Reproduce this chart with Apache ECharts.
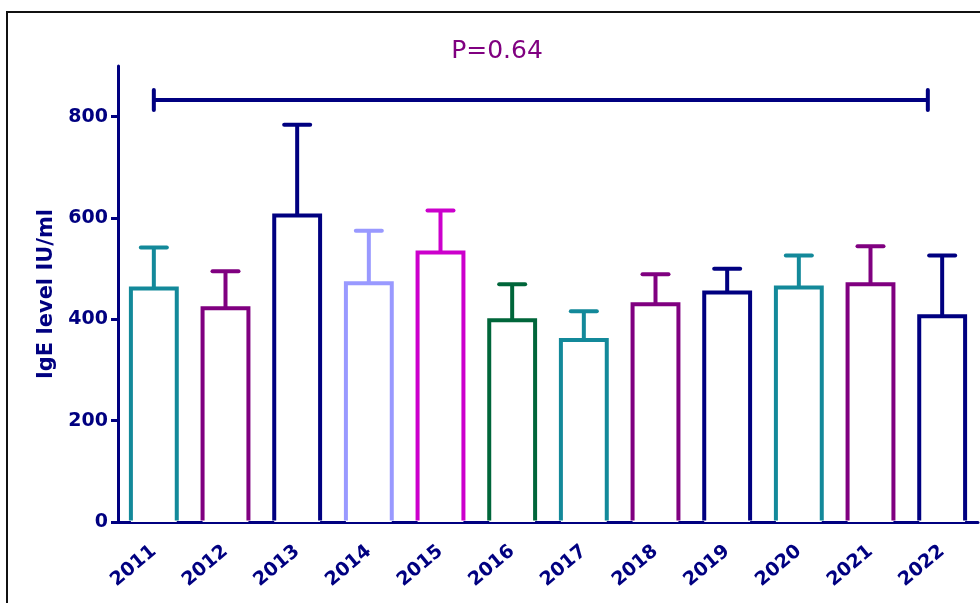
<!DOCTYPE html>
<html><head><meta charset="utf-8">
<script src="https://cdn.jsdelivr.net/npm/echarts@6/dist/echarts.min.js"></script>
<style>html,body{margin:0;padding:0;background:#fff}#c{width:980px;height:603px}</style>
</head><body><div id="c"></div>
<script>
const years = ['2011','2012','2013','2014','2015','2016','2017','2018','2019','2020','2021','2022'];
const means = [461, 422, 605, 471, 532, 398, 359, 430, 453, 463, 469, 406];
const errorTops = [542, 495, 784, 575, 615, 469, 416, 489, 500, 526, 544, 526];
const barColors = ['#13899a','#800080','#000080','#9999ff','#cc00cc','#00663a','#13899a','#800080','#000080','#13899a','#800080','#000080'];
const yTicks = [0, 200, 400, 600, 800];
const bracketFrom = 0, bracketTo = 10.8, bracketValue = 833;
const pLabel = 'P=0.64';

const NAVY = '#000080';
const FONT = 'DejaVu Sans';
const chart = echarts.init(document.getElementById('c'), null, {renderer: 'canvas'});

const barData = years.map((y, i) => [i, means[i], errorTops[i]]);

chart.setOption({
  animation: false,
  backgroundColor: '#fff',
  grid: {left: 118, right: 2, top: 66, bottom: 81, containLabel: false},
  graphic: [
    {type: 'rect', shape: {x: 7, y: 12, width: 1000, height: 700}, style: {fill: null, stroke: '#111', lineWidth: 2}, z: 0},
    {type: 'text', x: 497, y: 51, style: {text: pLabel, fill: '#800080', fontSize: 25, fontFamily: FONT, align: 'center', verticalAlign: 'middle'}}
  ],
  xAxis: [{
    type: 'category', data: years,
    axisLine: {onZero: false, lineStyle: {color: NAVY, width: 3}},
    axisTick: {alignWithLabel: true, length: 8, lineStyle: {color: NAVY, width: 3}},
    axisLabel: {rotate: 40, margin: 27, color: NAVY, fontFamily: FONT, fontWeight: 'bold', fontSize: 19, interval: 0},
    splitLine: {show: false}
  }, {
    type: 'value', min: -0.5, max: years.length - 0.5, show: false
  }],
  yAxis: {
    type: 'value', min: 0, max: 900, interval: 200,
    name: 'IgE level IU/ml', nameLocation: 'middle', nameGap: 60,
    nameTextStyle: {color: NAVY, fontFamily: FONT, fontWeight: 'bold', fontSize: 21},
    axisLine: {show: true, onZero: false, lineStyle: {color: NAVY, width: 3}},
    axisTick: {show: true, length: 7, lineStyle: {color: NAVY, width: 3}, customValues: yTicks},
    axisLabel: {customValues: yTicks, margin: 10, color: NAVY, fontFamily: FONT, fontWeight: 'bold', fontSize: 19},
    splitLine: {show: false}
  },
  series: [
    {
      type: 'custom', name: 'IgE', data: barData,
      encode: {x: 0, y: [1, 2]},
      renderItem: function (params, api) {
        const i = api.value(0), m = api.value(1), e = api.value(2);
        const base = api.coord([i, 0]);
        const top = api.coord([i, m]);
        const et = api.coord([i, e]);
        const bw = api.size([1, 0])[0] * 0.64;
        const half = bw / 2;
        const capHalf = 13;
        const c = barColors[params.dataIndex];
        const cx = top[0];
        return {type: 'group', children: [
          {type: 'rect', shape: {x: cx - half, y: top[1], width: bw, height: base[1] - top[1]}, style: {fill: '#fff'}},
          {type: 'polyline', shape: {points: [[cx - half, base[1] - 1.5], [cx - half, top[1]], [cx + half, top[1]], [cx + half, base[1] - 1.5]]},
            style: {stroke: c, lineWidth: 4, fill: null, lineJoin: 'miter'}},
          {type: 'line', shape: {x1: cx, y1: top[1], x2: cx, y2: et[1]}, style: {stroke: c, lineWidth: 4}},
          {type: 'line', shape: {x1: cx - capHalf, y1: et[1], x2: cx + capHalf, y2: et[1]}, style: {stroke: c, lineWidth: 4, lineCap: 'round'}}
        ]};
      }
    },
    {
      type: 'custom', name: 'bracket', xAxisIndex: 1, data: [[bracketFrom, bracketTo, bracketValue]],
      encode: {x: [0, 1], y: 2},
      renderItem: function (params, api) {
        const p1 = api.coord([api.value(0), api.value(2)]);
        const p2 = api.coord([api.value(1), api.value(2)]);
        const h = 10;
        return {type: 'group', children: [
          {type: 'line', shape: {x1: p1[0], y1: p1[1], x2: p2[0], y2: p2[1]}, style: {stroke: NAVY, lineWidth: 4}},
          {type: 'line', shape: {x1: p1[0], y1: p1[1] - h, x2: p1[0], y2: p1[1] + h}, style: {stroke: NAVY, lineWidth: 4, lineCap: 'round'}},
          {type: 'line', shape: {x1: p2[0], y1: p2[1] - h, x2: p2[0], y2: p2[1] + h}, style: {stroke: NAVY, lineWidth: 4, lineCap: 'round'}}
        ]};
      }
    }
  ]
});
</script>
</body></html>
